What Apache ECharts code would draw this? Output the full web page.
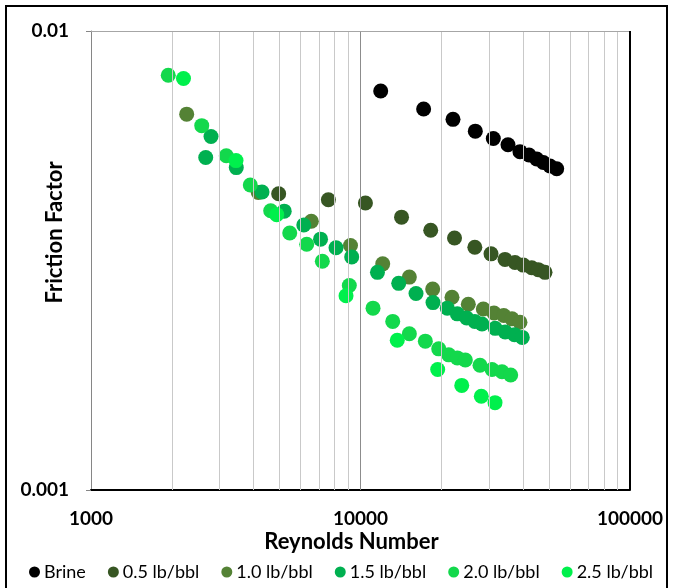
<!DOCTYPE html>
<html>
<head>
<meta charset="utf-8">
<script src="https://cdn.jsdelivr.net/npm/echarts@6/dist/echarts.min.js"></script>
<style>
  html, body { margin: 0; padding: 0; background: #ffffff; }
  #chart { width: 673px; height: 588px; }
</style>
</head>
<body>
<div id="chart"></div>
<script>
// Series names and colours
const seriesNames = ['Brine', '0.5 lb/bbl', '1.0 lb/bbl', '1.5 lb/bbl', '2.0 lb/bbl', '2.5 lb/bbl'];
const seriesColors = ['#000000', '#375623', '#548235', '#00B050', '#13D84C', '#00F04C'];

// Reynolds number / friction factor pairs for each fluid
const brineRe = [11885, 17150, 22040, 26670, 31100, 35260, 39060, 42200, 45070, 47680, 50490, 53460];
const brineF  = [0.00740, 0.00676, 0.00642, 0.00605, 0.00583, 0.00565, 0.00546, 0.00537, 0.00526, 0.00517, 0.00508, 0.00501];

const half0Re = [4970, 7600, 10430, 14200, 18220, 22330, 26560, 30500, 34370, 37440, 40190, 43180, 45670, 48370];
const half0F  = [0.00442, 0.00429, 0.00422, 0.00393, 0.00368, 0.00354, 0.00338, 0.00327, 0.00318, 0.00313, 0.00309, 0.00305, 0.00302, 0.00298];

const one0Re = [2265, 4176, 6570, 9180, 12090, 15180, 18530, 21850, 25120, 28560, 31290, 34000, 36490, 39060];
const one0F  = [0.00659, 0.00445, 0.00385, 0.00341, 0.00311, 0.00291, 0.00274, 0.00263, 0.00254, 0.00248, 0.00243, 0.00240, 0.00236, 0.00232];

const one5Re = [2665, 2788, 3460, 4311, 5211, 6160, 7107, 8111, 9276, 11560, 13860, 16070, 18580, 20990, 22870, 24780, 26560, 28240, 31610, 34430, 37280, 39840];
const one5F  = [0.00530, 0.00589, 0.00504, 0.00446, 0.00405, 0.00378, 0.00352, 0.00337, 0.00322, 0.00298, 0.00282, 0.00268, 0.00256, 0.00249, 0.00242, 0.00237, 0.00233, 0.00230, 0.00225, 0.00221, 0.00218, 0.00215];

const two0Re = [1935, 2576, 3177, 3900, 4643, 5463, 6316, 7217, 9088, 11130, 13170, 15180, 17400, 19510, 21260, 22870, 24490, 27760, 30760, 33500, 36080];
const two0F  = [0.00801, 0.00622, 0.00535, 0.00462, 0.00406, 0.00363, 0.00343, 0.00315, 0.00279, 0.00249, 0.00233, 0.00219, 0.00211, 0.00203, 0.00197, 0.00194, 0.00192, 0.00187, 0.00183, 0.00181, 0.00178];

const two5Re = [2204, 3452, 4888, 8837, 13690, 19340, 23750, 28070, 31560];
const two5F  = [0.00788, 0.00522, 0.00398, 0.00265, 0.00212, 0.00183, 0.00169, 0.00160, 0.00155];

// Axis ranges and tick labels
const xMin = 1000, xMax = 100000;
const yMin = 0.001, yMax = 0.01;
const xTickLabels = ['1000', '10000', '100000'];
const yTickLabels = ['0.001', '0.01'];

// Intermediate gridline positions on the log axes
const xMinorGrid = [2000, 3000, 4000, 5000, 6000, 7000, 8000, 9000, 20000, 30000, 40000, 50000, 60000, 70000, 80000, 90000];
const yMinorGrid = [0.002, 0.003, 0.004, 0.005, 0.006, 0.007, 0.008, 0.009];

const allRe = [brineRe, half0Re, one0Re, one5Re, two0Re, two5Re];
const allF  = [brineF, half0F, one0F, one5F, two0F, two5F];

const FONT = 'Lato, "Open Sans", sans-serif';

function pairs(xs, ys) { return xs.map((x, i) => [x, ys[i]]); }

function nearestLabel(v, labels) {
  let best = labels[0], bd = Infinity;
  labels.forEach(l => { const d = Math.abs(Math.log10(+l) - Math.log10(v)); if (d < bd) { bd = d; best = l; } });
  return best;
}

const gridLineStyle = { color: '#C9C9C9', width: 1, type: 'solid' };

// Hidden carrier series for the gridlines and the plot frame
const frameSeries = {
  type: 'line',
  data: [[xMin, yMin]],
  symbol: 'none',
  silent: true,
  lineStyle: { opacity: 0 },
  markLine: {
    silent: true,
    symbol: 'none',
    label: { show: false },
    animation: false,
    data: [
      ...xMinorGrid.map(v => ({ xAxis: v, lineStyle: gridLineStyle })),
      ...yMinorGrid.map(v => ({ yAxis: v, lineStyle: gridLineStyle })),
      { xAxis: 10000, lineStyle: { color: '#8C8C8C', width: 1, type: 'solid' } },
      { yAxis: yMax, lineStyle: { color: '#A6A6A6', width: 1, type: 'solid' } },
      { xAxis: xMax, lineStyle: { color: '#000000', width: 2, type: 'solid' } }
    ]
  }
};

const pointSeries = seriesNames.map((name, i) => ({
  name: name,
  type: 'scatter',
  data: pairs(allRe[i], allF[i]),
  symbol: 'circle',
  symbolSize: 15,
  itemStyle: { color: seriesColors[i], opacity: 1 },
  emphasis: { disabled: true }
}));

const chart = echarts.init(document.getElementById('chart'), null, { renderer: 'canvas' });

chart.setOption({
  animation: false,
  backgroundColor: '#ffffff',
  grid: { left: 91, top: 31, width: 539, height: 459, containLabel: false, outerBoundsMode: 'none' },
  xAxis: {
    type: 'log',
    logBase: 10,
    min: xMin,
    max: xMax,
    name: 'Reynolds Number',
    nameLocation: 'middle',
    nameGap: 41,
    nameMoveOverlap: false,
    nameTextStyle: { fontFamily: FONT, fontWeight: 'bold', fontSize: 22, color: '#000000', padding: [0, 18, 0, 0] },
    axisLine: { show: true, onZero: false, lineStyle: { color: '#000000', width: 2 } },
    axisTick: { show: false },
    axisLabel: {
      margin: 19,
      fontFamily: FONT, fontWeight: 'bold', fontSize: 19, color: '#000000',
      formatter: v => nearestLabel(v, xTickLabels)
    },
    splitLine: { show: false }
  },
  yAxis: {
    type: 'log',
    logBase: 10,
    min: yMin,
    max: yMax,
    name: 'Friction Factor',
    nameLocation: 'middle',
    nameGap: 25,
    nameMoveOverlap: false,
    nameRotate: 90,
    nameTextStyle: { fontFamily: FONT, fontWeight: 'bold', fontSize: 22, color: '#000000', padding: [0, 0, 0, 56] },
    axisLine: { show: true, onZero: false, lineStyle: { color: '#868686', width: 1 } },
    axisTick: { show: true, inside: false, length: 5, lineStyle: { color: '#868686' } },
    axisLabel: {
      margin: 22,
      fontFamily: FONT, fontWeight: 'bold', fontSize: 19, color: '#000000',
      formatter: v => nearestLabel(v, yTickLabels)
    },
    splitLine: { show: false }
  },
  legend: {
    data: seriesNames,
    left: 24,
    top: 558,
    width: 660,
    icon: 'circle',
    itemWidth: 11,
    itemHeight: 11,
    itemGap: 22,
    textStyle: { fontFamily: FONT, fontSize: 18, color: '#000000', padding: [0, 0, 0, -1] }
  },
  graphic: [{
    type: 'rect',
    shape: { x: 6, y: 6, width: 661, height: 590 },
    style: { fill: 'none', stroke: '#000000', lineWidth: 2 },
    silent: true,
    z: 100
  }],
  series: [frameSeries, ...pointSeries]
});
</script>
</body>
</html>
